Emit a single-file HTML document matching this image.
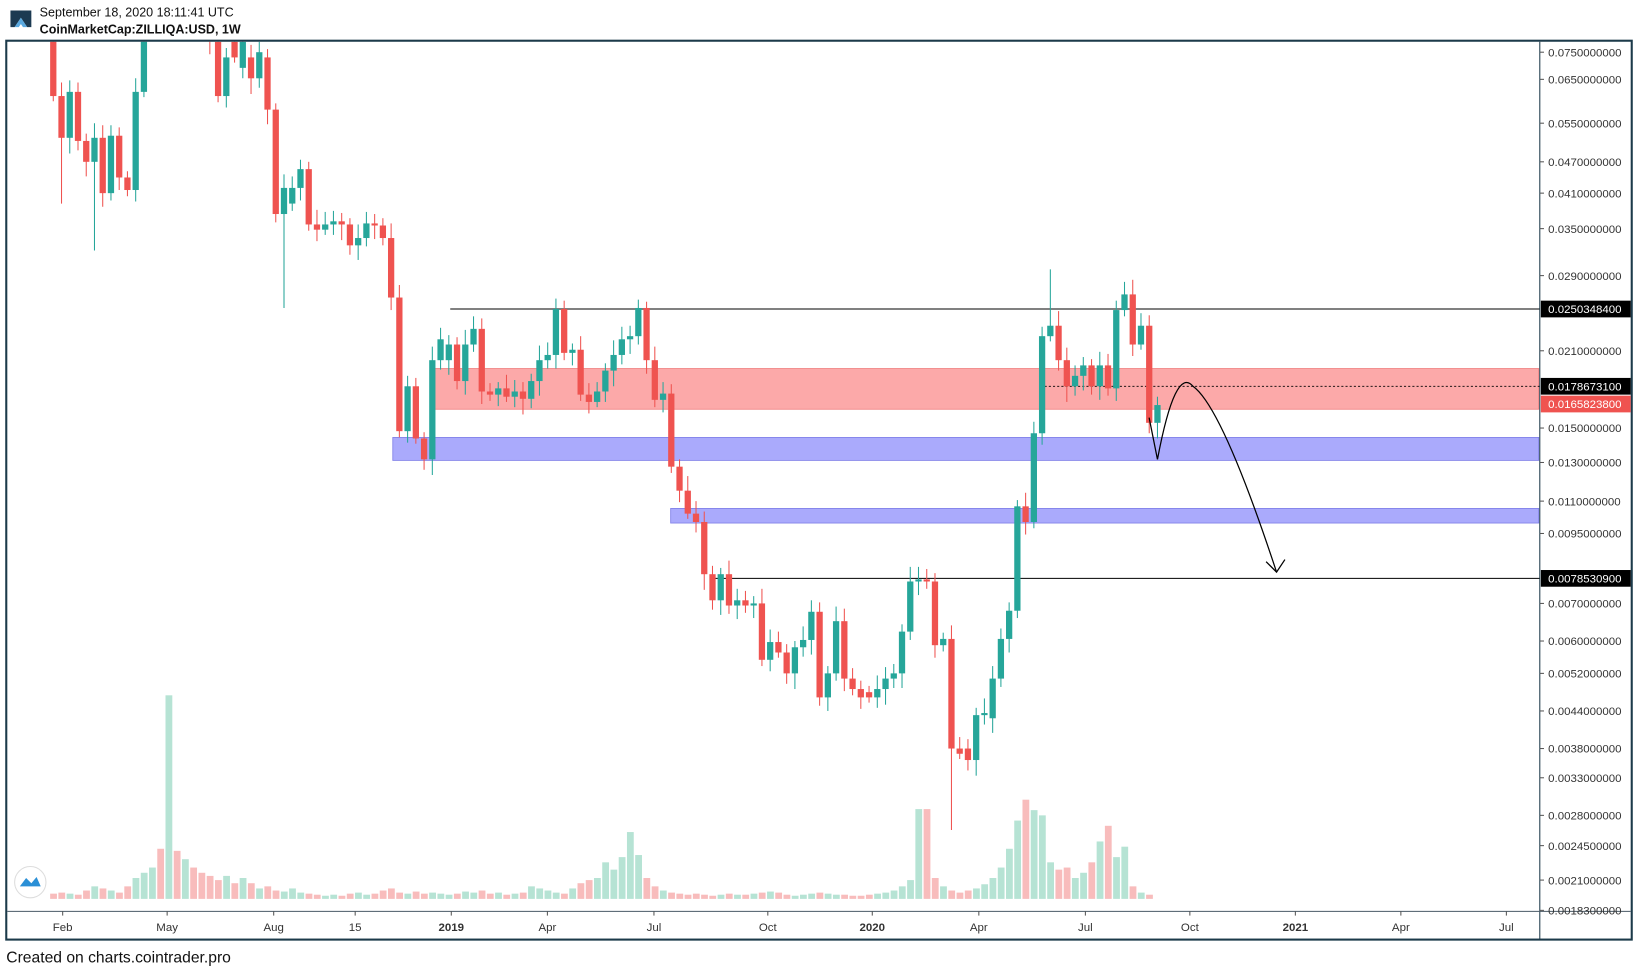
<!DOCTYPE html>
<html><head><meta charset="utf-8"><style>
html,body{margin:0;padding:0;background:#fff;width:1638px;height:973px;overflow:hidden}
svg{display:block;font-family:"Liberation Sans",sans-serif}
</style></head><body>
<svg id="s" width="1638" height="973" viewBox="0 0 1568 932" preserveAspectRatio="none" xmlns="http://www.w3.org/2000/svg">
<rect width="1568" height="932" fill="#fff"/>
<g id="logo"><polygon points="10,26 10,10 30,10 30,26 26,26 20,17 14,26" fill="#1c3a52"/><polygon points="14,26 20,17 26,26 22,26 20,23 18,26" fill="#5aa9e0"/></g>
<text x="38" y="16" font-size="12" fill="#111">September 18, 2020 18:11:41 UTC</text>
<text x="38" y="32" font-size="12" font-weight="bold" fill="#111">CoinMarketCap:ZILLIQA:USD, 1W</text>
<defs><clipPath id="cp"><rect x="7" y="40" width="1466" height="832"/></clipPath></defs>
<g id="zones">
<rect x="412" y="353" width="1061" height="39" fill="#fca9a9" stroke="#f08080" stroke-width="0.8"/>
<rect x="376" y="419" width="1097" height="22" fill="#aaaafc" stroke="#7f7fe8" stroke-width="0.8"/>
<rect x="642" y="487" width="831" height="14" fill="#aaaafc" stroke="#7f7fe8" stroke-width="0.8"/>
<line x1="431" y1="296" x2="1474" y2="296" stroke="#000" stroke-width="1"/>
<line x1="680" y1="554" x2="1474" y2="554" stroke="#000" stroke-width="1"/>
<line x1="1000" y1="370" x2="1474" y2="370" stroke="#000" stroke-width="0.8" stroke-dasharray="2,2"/>
</g>
<g id="vol" clip-path="url(#cp)"></g>
<g id="cd" clip-path="url(#cp)"></g>
<path d="M1100,400 L1108,440 Q1125,350 1142,370 Q1170,390 1222,548" fill="none" stroke="#000" stroke-width="1.2"/>
<path d="M1212,538 L1222,548 L1230,536" fill="none" stroke="#000" stroke-width="1.2"/>
<rect x="6" y="39" width="1556" height="861" fill="none" stroke="#1c3a4a" stroke-width="2"/>
<line x1="1474" y1="40" x2="1474" y2="900" stroke="#1c3a4a" stroke-width="1"/>
<line x1="7" y1="873" x2="1561" y2="873" stroke="#4a5a66" stroke-width="1"/>
<g id="ax" font-size="11" fill="#333"></g>
<g id="tx" font-size="11" fill="#333" text-anchor="middle"></g>
<circle cx="29" cy="845" r="15" fill="#fff" stroke="#ddd"/>
<path d="M19,849 L25,841 L30,846 L35,840 L39,849 Z" fill="#2a8fd6"/>
<text x="6" y="922" font-size="15" fill="#111">Created on charts.cointrader.pro</text>
</svg>
<script>
var NS="http://www.w3.org/2000/svg";
function el(p,t,a,txt){var e=document.createElementNS(NS,t);for(var k in a)e.setAttribute(k,a[k]);if(txt!=null)e.textContent=txt;document.getElementById(p).appendChild(e);return e;}
var C=[[20,92],[92,132,0,195],[132,88],[88,135],[135,155],[155,132,0,240],[132,185],[185,130],[130,170],[170,182],[182,88],[88,20],[20,10],[10,15],[15,5],[5,10],[10,5],[5,10],[10,20],[20,40],
[40,92],[92,55],[40,55],[65,40],[55,75],[75,50],[55,105],[105,205],[205,180,0,295],[195,180],[180,162],[162,215],[215,220],[220,215],[215,212],[212,215],[215,235],[235,228],[228,214],[214,216],
[216,228],[228,285],[285,413],[413,370],[370,420],[420,440],[440,345],[345,325],[345,330],[330,365],[365,330],[330,315],[315,375],[375,378],[378,372],[372,380],[380,375],[375,382],[382,365],[365,345],
[345,340],[340,296],[296,338],[338,335],[335,378],[378,385],[385,375],[375,355],[355,340],[340,325],[325,322],[322,295],[295,345],[345,383],[383,377],[377,447],[447,470],[470,492],[492,500],[500,550],
[550,575],[575,550],[550,580],[580,575],[575,580],[580,578],[578,632],[632,615],[615,625],[625,645],[645,620],[620,613],[613,586],[586,668],[668,645],[645,595],[595,650],[650,660],[660,668],[663,668],
[668,660],[660,650],[650,645],[645,605],[605,557],[557,555],[555,557],[557,618],[618,612],[612,717,0,795],[717,722],[717,728],[728,685],[685,683],[688,650],[650,612],[612,585],[585,485],[485,500],[500,415],
[415,322],[322,312,258],[312,345],[345,370],[370,360],[360,350],[350,370],[370,350],[350,372],[372,297],[297,282,270],[282,330],[330,312],[312,405],[405,388]];
var V=[5,6,5,4,8,12,10,8,6,12,20,25,30,48,195,46,38,30,25,22,18,22,15,20,15,10,12,8,7,10,6,5,4,3,4,3,5,6,4,5,8,10,6,5,7,5,6,5,4,5,7,6,8,5,6,4,5,6,12,10,8,6,5,10,15,18,20,35,28,40,64,42,20,12,8,6,5,4,5,4,3,4,5,4,4,5,6,7,6,4,3,4,5,6,5,4,4,3,3,4,5,6,8,12,18,86,86,20,12,8,6,8,10,14,20,30,48,75,95,85,80,35,28,30,20,25,35,55,70,40,50,12,6,4];
var X0=51,N=C.length,DX=(1108-51)/(N-1);
function xp(i){return X0+DX*i;}
for(var i=0;i<C.length;i++){var c=C[i],o=c[0],cl=c[1],x=xp(i);var up=cl<o;var col=up?"#26a69a":"#ef5350";
var hi=c[2]||Math.min(o,cl)-Math.round(6+ (i*7%9)),lo=c[3]||Math.max(o,cl)+Math.round(5+(i*5%11));
el("cd","line",{x1:x,x2:x,y1:hi,y2:lo,stroke:col,"stroke-width":1});
var t=Math.min(o,cl),h=Math.max(Math.abs(o-cl),1);el("cd","rect",{x:x-3,y:t,width:6,height:h,fill:col});}
for(var i=0;i<V.length&&i<N;i++){var x=xp(i),c=C[i];var up=c[1]<c[0];
el("vol","rect",{x:x-3,y:861-V[i],width:6.5,height:V[i],fill:up?"#b6e3d4":"#f8bcbc"});}
var L=[["0.0750000000",50],["0.0650000000",76],["0.0550000000",118],["0.0470000000",155],["0.0410000000",185],["0.0350000000",219],["0.0290000000",264],["0.0210000000",336],["0.0150000000",410],["0.0130000000",443],["0.0110000000",480],["0.0095000000",511],["0.0070000000",578],["0.0060000000",614],["0.0052000000",645],["0.0044000000",681],["0.0038000000",717],["0.0033000000",745],["0.0028000000",781],["0.0024500000",810],["0.0021000000",843],["0.0018300000",872]];
L.forEach(function(l){el("ax","line",{x1:1474,x2:1478,y1:l[1],y2:l[1],stroke:"#555"});el("ax","text",{x:1482,y:l[1]+4},l[0]);});
[["0.0250348400",296,"#000"],["0.0178673100",370,"#000"],["0.0165823800",387,"#ef5350"],["0.0078530900",554,"#000"]].forEach(function(l){
el("ax","rect",{x:1475,y:l[1]-8,width:86,height:16,fill:l[2]});el("ax","text",{x:1482,y:l[1]+4,fill:"#fff"},l[0]);});
[["Feb",60],["May",160],["Aug",262],["15",340],["2019",432,1],["Apr",524],["Jul",626],["Oct",735],["2020",835,1],["Apr",937],["Jul",1039],["Oct",1139],["2021",1240,1],["Apr",1341],["Jul",1442]].forEach(function(t){
el("tx","line",{x1:t[1],x2:t[1],y1:873,y2:877,stroke:"#555"});var e=el("tx","text",{x:t[1],y:892},t[0]);if(t[2])e.setAttribute("font-weight","bold");});
</script>
</body></html>
